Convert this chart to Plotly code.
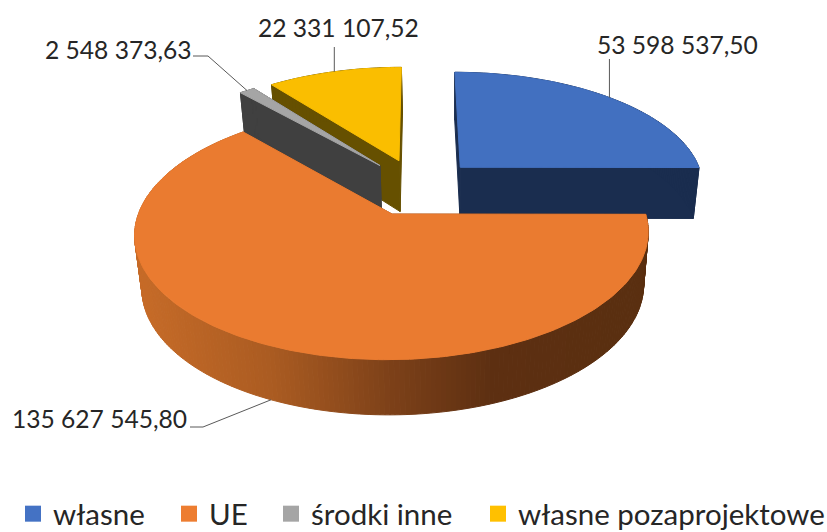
import numpy as np
import plotly.graph_objects as go

categories = ["własne", "UE", "środki inne", "własne pozaprojektowe"]
values = [53598537.50, 135627545.80, 2548373.63, 22331107.52]
value_labels = ["53 598 537,50", "135 627 545,80", "2 548 373,63", "22 331 107,52"]
top_colors = ["#4270C0", "#EA7B30", "#A5A5A5", "#FABE00"]
side_colors = ["#1A2D4F", "#7D4119", "#404040", "#665000"]
legend_colors = ["#4472C4", "#ED7D31", "#A5A5A5", "#FFC000"]

W, H = 827, 532
CX, CY, RX, RY, P, EXPLODE = 418.0, 187.0, 245.0, 114.7, 0.15, 0.25
RIM_STOPS_X = [140, 270, 390, 490, 640]
RIM_STOPS = [(198, 107, 40), (171, 92, 34), (125, 65, 25), (94, 48, 18), (90, 47, 16)]
TEXT = "#262626"
FONT = "Lato, Carlito, sans-serif"
label_pos = [(677, 44), (99, 418), (118, 49), (338, 27)]
label_elbow = [None, (190, 427, 203), (193, 56, 208), None]
label_start = [(610, 59), None, None, (336, 47)]
legend_left = [13, 169, 271, 478]
legend_mid_y = 514

total = sum(values)
spans = [v / total * 2 * np.pi for v in values]
starts = np.cumsum([0] + spans[:-1])


def project(theta, radius, off):
    X = off[0] + radius * np.sin(theta)
    Y = off[1] + radius * np.cos(theta)
    D = 1 + P * Y
    return CX + RX * X / D, CY - RY * Y / D, Y


def drop(sx, sy, Y):
    return 450 + (sx - 450) * 0.977, sy + 51.5 - 3 * Y


def poly(xs, ys, color):
    return go.Scatter(x=list(xs), y=list(ys), mode="lines", fill="toself", fillcolor=color,
                      line=dict(color=color, width=1), hoverinfo="skip", showlegend=False)


def rim_color(sx):
    c = [int(np.interp(sx, RIM_STOPS_X, [s[i] for s in RIM_STOPS])) for i in range(3)]
    return f"rgb({c[0]},{c[1]},{c[2]})"


fig = go.Figure()
tips = {}
for idx in [0, 3, 2, 1]:  # back to front
    a0, span = starts[idx], spans[idx]
    mid = a0 + span / 2
    off = (EXPLODE * np.sin(mid), EXPLODE * np.cos(mid))
    thetas = np.linspace(a0, a0 + span, max(3, int(np.degrees(span)) + 2))
    apex = project(0, 0, off)
    rim = [project(t, 1, off) for t in thetas]
    # radial walls
    for r in (rim[0], rim[-1]):
        b0, b1 = drop(*apex), drop(*r)
        fig.add_trace(poly([apex[0], r[0], b1[0], b0[0], apex[0]],
                           [apex[1], r[1], b1[1], b0[1], apex[1]], side_colors[idx]))
    # outer wall
    for p, q in zip(rim[:-1], rim[1:]):
        if p[2] > 0.6 and q[2] > 0.6 and idx == 1:
            continue
        bp, bq = drop(*p), drop(*q)
        col = rim_color((p[0] + q[0]) / 2) if idx == 1 else side_colors[idx]
        fig.add_trace(poly([p[0], q[0], bq[0], bp[0], p[0]], [p[1], q[1], bq[1], bp[1], p[1]], col))
    # top
    fig.add_trace(poly([apex[0]] + [r[0] for r in rim] + [apex[0]],
                       [apex[1]] + [r[1] for r in rim] + [apex[1]], top_colors[idx]))
    tip = project(mid, 1, off)
    tips[idx] = drop(*tip) if np.cos(mid) < 0 else tip[:2]

# leader lines
for i in range(4):
    tx, ty = tips[i]
    if label_elbow[i]:
        x0, y0, x1 = label_elbow[i]
        xs, ys = [x0, x1, tx], [y0, y0, ty]
    else:
        sx, sy = label_start[i]
        xs, ys = [tx, tx], [sy, ty]
    fig.add_trace(go.Scatter(x=xs, y=ys, mode="lines", line=dict(color="#595959", width=1),
                             hoverinfo="skip", showlegend=False))

# legend entries: one legend per entry so each sits at its own position
legend_layout = {}
for i, (name, col) in enumerate(zip(categories, legend_colors)):
    key = "legend" if i == 0 else f"legend{i + 1}"
    fig.add_trace(go.Scatter(x=[None], y=[None], mode="markers", name=name, legend=key,
                             marker=dict(symbol="square", size=19, color=col)))
    legend_layout[key] = dict(x=legend_left[i] / W, xanchor="left",
                              y=(H - legend_mid_y) / H, yanchor="middle",
                              font=dict(family=FONT, size=29.5, color=TEXT),
                              bgcolor="rgba(0,0,0,0)", itemwidth=30)

for text, (x, y) in zip(value_labels, label_pos):
    fig.add_annotation(x=x, y=y, text=text, showarrow=False, xanchor="center", yanchor="middle",
                       font=dict(family=FONT, size=24.6, color=TEXT))

fig.update_layout(
    width=W, height=H, autosize=False,
    margin=dict(l=0, r=0, t=0, b=0, autoexpand=False),
    paper_bgcolor="white", plot_bgcolor="white",
    xaxis=dict(range=[0, W], visible=False, fixedrange=True),
    yaxis=dict(range=[H, 0], visible=False, fixedrange=True),
    **legend_layout,
)
fig.write_html("out.html", config=dict(displayModeBar=False),
               post_script="document.body.style.margin='0';")
